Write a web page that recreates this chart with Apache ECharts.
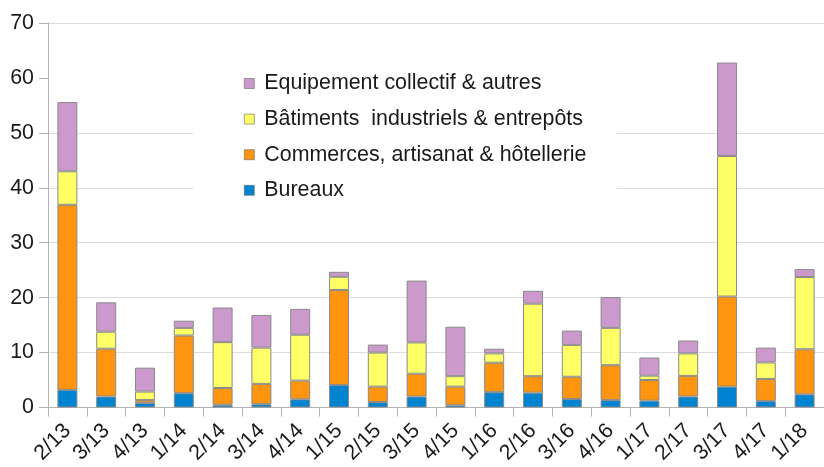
<!DOCTYPE html>
<html>
<head>
<meta charset="utf-8">
<script src="https://cdn.jsdelivr.net/npm/echarts@6/dist/echarts.min.js"></script>
<style>
html,body{margin:0;padding:0;background:#fff;}
#chart{width:824px;height:467px;}
</style>
</head>
<body>
<div id="chart"></div>
<script>
const categories = ['2/13','3/13','4/13','1/14','2/14','3/14','4/14','1/15','2/15','3/15','4/15','1/16','2/16','3/16','4/16','1/17','2/17','3/17','4/17','1/18'];
const seriesNames = ['Equipement collectif & autres','Bâtiments  industriels & entrepôts','Commerces, artisanat & hôtellerie','Bureaux'];
const bureaux     = [3.2, 2.0, 0.85, 2.6, 0.5, 0.6, 1.5, 4.1, 1.0, 2.0, 0.4, 2.8, 2.7, 1.55, 1.35, 1.25, 2.0, 3.8, 1.2, 2.4];
const commerces   = [33.7, 8.7, 0.5, 10.5, 3.05, 3.7, 3.4, 17.3, 2.8, 4.15, 3.4, 5.35, 3.0, 4.05, 6.35, 3.75, 3.75, 16.4, 4.0, 8.2];
const batiments   = [6.1, 3.1, 1.55, 1.4, 8.35, 6.6, 8.35, 2.4, 6.2, 5.7, 1.9, 1.7, 13.2, 5.8, 6.8, 0.8, 4.1, 25.6, 3.0, 13.15];
const equipement  = [12.6, 5.35, 4.35, 1.3, 6.3, 5.95, 4.7, 0.9, 1.45, 11.25, 9.0, 0.85, 2.35, 2.6, 5.6, 3.3, 2.35, 17.0, 2.7, 1.45];
const yTicks = [0, 10, 20, 30, 40, 50, 60, 70];

const colors = {
  'Bureaux': '#0084d1',
  'Commerces, artisanat & hôtellerie': '#ff950e',
  'Bâtiments  industriels & entrepôts': '#ffff66',
  'Equipement collectif & autres': '#cc99cc'
};
const font = '"Liberation Sans", Arial, sans-serif';
const gridColors = yTicks.map(v => v === 60 ? 'rgba(0,0,0,0)' : '#dcdcdc');

function mk(name, data) {
  return {
    name: name, type: 'bar', stack: 'total', data: data, barWidth: 20,
    itemStyle: { color: colors[name], borderColor: '#8a8a8a', borderWidth: 1 },
    emphasis: { disabled: true }
  };
}

const chart = echarts.init(document.getElementById('chart'), null, { renderer: 'canvas' });
chart.setOption({
  animation: false,
  backgroundColor: '#fff',
  grid: { left: 48, top: 23, width: 781.6, height: 384.5, containLabel: false },
  legend: {
    data: seriesNames,
    orient: 'vertical',
    left: 193, top: 60,
    padding: [13, 30, 10, 51],
    backgroundColor: '#fff',
    itemWidth: 10, itemHeight: 10, itemGap: 14.6,
    icon: 'rect',
    itemStyle: { borderColor: '#666', borderWidth: 0.6 },
    textStyle: { fontFamily: font, fontSize: 21.4, color: '#1a1a1a', lineHeight: 20, padding: [0, 0, 0, 5] },
    selectedMode: false
  },
  xAxis: {
    type: 'category', data: categories, boundaryGap: true,
    axisLine: { lineStyle: { color: '#b3b3b3', width: 1 } },
    axisTick: { show: true, interval: 0, length: 9, lineStyle: { color: '#b3b3b3' } },
    axisLabel: { interval: 0, rotate: 45, fontFamily: font, fontSize: 21.4, color: '#1a1a1a', margin: 20 }
  },
  yAxis: {
    type: 'value', min: 0, max: 70, interval: 10,
    axisLine: { show: true, lineStyle: { color: '#b3b3b3' } },
    axisTick: { show: true, length: 9, lineStyle: { color: '#b3b3b3' } },
    axisLabel: { fontFamily: font, fontSize: 21.4, color: '#1a1a1a', margin: 14 },
    splitLine: { show: true, lineStyle: { color: gridColors, width: 1 } }
  },
  series: [
    mk('Bureaux', bureaux),
    mk('Commerces, artisanat & hôtellerie', commerces),
    mk('Bâtiments  industriels & entrepôts', batiments),
    mk('Equipement collectif & autres', equipement)
  ]
});
</script>
</body>
</html>
